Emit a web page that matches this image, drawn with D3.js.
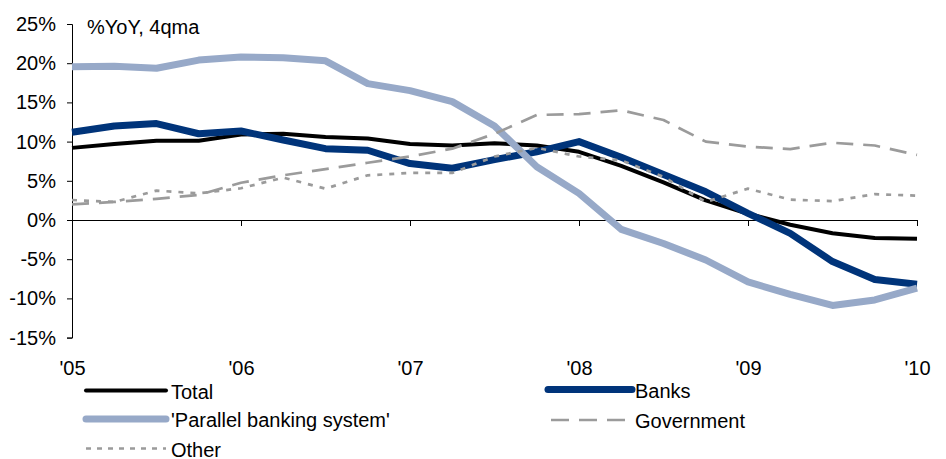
<!DOCTYPE html>
<html>
	<head>
	<meta charset="utf-8">
	<style>
		body{margin:0;background:#fff;}
		text{font-family:"Liberation Sans",Arial,sans-serif;}
	</style>
	</head>
	<body>
	<script src="https://d3js.org/d3.v7.min.js" charset="utf-8"></script>
	<script>
		// quarterly, 2005Q1 .. 2010Q1
		var quarters=["05Q1","05Q2","05Q3","05Q4","06Q1","06Q2","06Q3","06Q4","07Q1","07Q2","07Q3","07Q4",
			"08Q1","08Q2","08Q3","08Q4","09Q1","09Q2","09Q3","09Q4","10Q1"];
		var yearLabels=["'05","'06","'07","'08","'09","'10"];
		var yTicks=[-15,-10,-5,0,5,10,15,20,25];

		var total=[9.2,9.7,10.1,10.1,10.9,11.0,10.6,10.4,9.7,9.5,9.8,9.5,8.7,6.9,4.8,2.5,0.8,-0.6,-1.7,-2.3,-2.4];
		var banks=[11.2,12.0,12.3,11.0,11.35,10.2,9.1,8.9,7.2,6.6,7.7,8.7,10.0,8.0,5.8,3.6,0.85,-1.7,-5.3,-7.6,-8.2];
		var parallel=[19.55,19.6,19.35,20.4,20.8,20.7,20.3,17.4,16.5,15.1,12.0,6.8,3.4,-1.2,-3.0,-5.1,-7.9,-9.5,-10.9,-10.2,-8.7];
		var government=[2.0,2.3,2.7,3.2,4.75,5.7,6.5,7.3,8.1,9.1,11.0,13.4,13.5,14.0,12.75,10.0,9.35,9.05,9.85,9.5,8.3];
		var other=[2.55,2.3,3.75,3.4,4.05,5.4,4.0,5.7,6.0,6.0,8.1,9.2,8.1,7.6,5.5,2.3,4.0,2.6,2.4,3.3,3.1];

		var width=946;
		var height=459;
		var fontSize=20;

		var svg=d3.select("body").append("svg")
				.attr("width",width)
				.attr("height",height);

		var x=d3.scaleLinear().domain([0,quarters.length-1]).range([72,917]);
		var y=d3.scaleLinear().domain([-15,25]).range([337.6,24]);

		// y axis
		var yAxis=d3.axisLeft(y)
				.tickValues(yTicks)
				.tickSize(5)
				.tickFormat(function(d){return d+"%";});
		var gy=svg.append("g")
				.attr("transform","translate("+x(0)+",0)")
				.call(yAxis);
		gy.select(".domain").attr("stroke","#000");
		gy.selectAll(".tick line").attr("stroke","#000");
		gy.selectAll(".tick text")
				.attr("font-size",fontSize+"px")
				.attr("fill","#000")
				.attr("x",-16);

		// x axis on the zero line, labels below the plot
		var yearPos=yearLabels.map(function(d,i){return i*4;});
		var xAxis=d3.axisBottom(x)
				.tickValues(yearPos)
				.tickSizeInner(6)
				.tickSizeOuter(0)
				.tickFormat(function(d,i){return yearLabels[i];});
		var gx=svg.append("g")
				.attr("transform","translate(0,"+y(0)+")")
				.call(xAxis);
		gx.select(".domain").attr("stroke","#000");
		gx.selectAll(".tick line").attr("stroke","#000");
		gx.selectAll(".tick text")
				.attr("font-size",fontSize+"px")
				.attr("fill","#000")
				.attr("y",375-y(0))
				.attr("dy",0);

		svg.append("text")
				.attr("x",87)
				.attr("y",34)
				.attr("font-size",fontSize+"px")
				.text("%YoY, 4qma");

		var series=[
			{name:"Total",values:total,color:"#000000",w:4,dash:null},
			{name:"Banks",values:banks,color:"#00347A",w:7,dash:null},
			{name:"'Parallel banking system'",values:parallel,color:"#97A9C8",w:7,dash:null},
			{name:"Government",values:government,color:"#9B9B9B",w:2.7,dash:"17,10"},
			{name:"Other",values:other,color:"#9B9B9B",w:2.7,dash:"5,7"}
		];

		var line=d3.line()
				.x(function(d,i){return x(i);})
				.y(function(d){return y(d);});

		svg.selectAll(".series")
				.data(series)
				.enter()
				.append("path")
				.attr("class","series")
				.attr("fill","none")
				.attr("stroke",function(d){return d.color;})
				.attr("stroke-width",function(d){return d.w;})
				.attr("stroke-dasharray",function(d){return d.dash;})
				.attr("stroke-linejoin","round")
				.attr("d",function(d){return line(d.values);});

		// legend
		var legendPos=[
			{x1:86,x2:166,ty:390.5,tx:171},
			{x1:548,x2:632,ty:389.5,tx:635},
			{x1:86,x2:166,ty:419,tx:171},
			{x1:551,x2:630,ty:420,tx:635},
			{x1:86,x2:166,ty:448.5,tx:171}
		];
		var leg=svg.selectAll(".leg")
				.data(series)
				.enter()
				.append("g")
				.attr("class","leg");
		leg.append("line")
				.attr("x1",function(d,i){return legendPos[i].x1;})
				.attr("x2",function(d,i){return legendPos[i].x2;})
				.attr("y1",function(d,i){return legendPos[i].ty;})
				.attr("y2",function(d,i){return legendPos[i].ty;})
				.attr("stroke",function(d){return d.color;})
				.attr("stroke-width",function(d){return d.w;})
				.attr("stroke-dasharray",function(d){return d.dash ? (d.name=="Other" ? "5,6" : "18,10") : null;})
				.attr("stroke-linecap",function(d){return d.dash ? "butt" : "round";});
		leg.append("text")
				.attr("x",function(d,i){return legendPos[i].tx;})
				.attr("y",function(d,i){return legendPos[i].ty+8;})
				.attr("font-size",fontSize+"px")
				.attr("fill","#000")
				.text(function(d){return d.name;});
	</script>
	</body>
</html>
